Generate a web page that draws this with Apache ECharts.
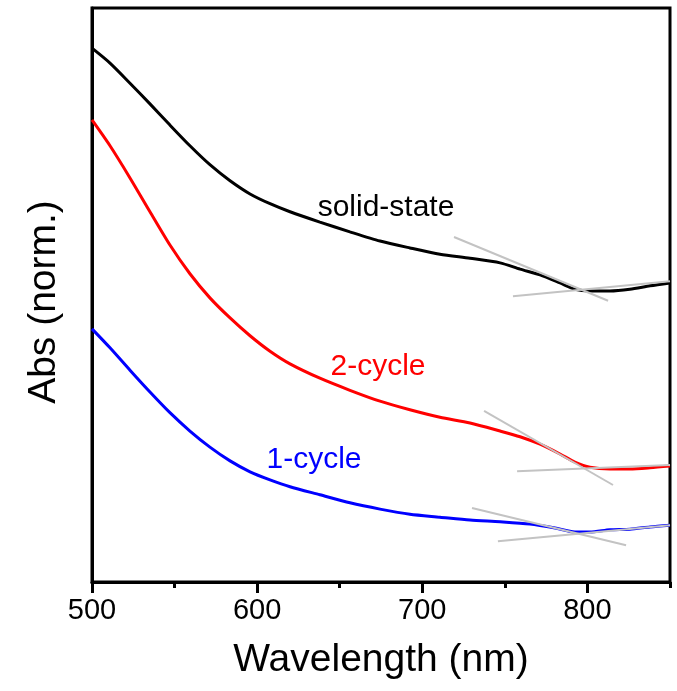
<!DOCTYPE html>
<html>
<head>
<meta charset="utf-8">
<script src="https://cdn.jsdelivr.net/npm/echarts@6/dist/echarts.min.js"></script>
<style>html,body{margin:0;padding:0;background:#fff;}#c{width:677px;height:691px;}</style>
</head>
<body>
<div id="c"></div>
<script>
// Wavelength (nm)
const wlSolid = [500,510.9,523.0,535.1,547.2,559.3,571.4,583.6,595.7,607.8,619.9,638.0,656.2,674.4,692.5,710.7,728.9,747.1,759.2,771.3,783.4,792.4,801.5,813.6,825.7,837.9,850];
const absSolid = [0.930,0.904,0.869,0.833,0.796,0.760,0.727,0.699,0.676,0.659,0.645,0.627,0.610,0.594,0.582,0.571,0.564,0.556,0.545,0.535,0.521,0.510,0.507,0.507,0.510,0.516,0.521];
const wl2 = [500,510.9,523.0,535.1,547.2,559.3,571.4,583.6,595.7,607.8,619.9,638.0,656.2,674.4,692.5,710.7,728.9,747.1,759.2,771.3,783.4,792.4,801.5,813.6,825.7,837.9,850];
const abs2 = [0.805,0.760,0.704,0.645,0.587,0.537,0.495,0.460,0.429,0.402,0.380,0.355,0.334,0.315,0.300,0.287,0.277,0.263,0.253,0.240,0.223,0.209,0.200,0.197,0.197,0.199,0.202];
const wl1 = [500,510.9,523.0,535.1,547.2,559.3,571.4,583.6,595.7,607.8,619.9,638.0,656.2,674.4,692.5,710.7,728.9,747.1,765.2,780.4,792.4,801.5,813.6,825.7,837.9,850];
const abs1 = [0.441,0.408,0.369,0.331,0.295,0.263,0.235,0.211,0.192,0.178,0.166,0.152,0.138,0.127,0.118,0.113,0.108,0.105,0.101,0.094,0.087,0.087,0.091,0.092,0.096,0.099];
// Tangent (onset) construction lines: [wavelength, abs] end points
const tangentSolidA = [[719.2,0.601],[812.5,0.490]];
const tangentSolidB = [[754.9,0.498],[850,0.524]];
const tangent2A = [[737.4,0.298],[815.5,0.169]];
const tangent2B = [[757.4,0.193],[850,0.204]];
const tangent1A = [[730.1,0.129],[823.4,0.064]];
const tangent1B = [[745.8,0.071],[850,0.099]];
const xTicks = [500,600,700,800];
const labels = ['solid-state','2-cycle','1-cycle'];

const FONT = 'Liberation Sans, Arial, sans-serif';
const zip = (xs, ys) => xs.map((x, i) => [x, ys[i]]);
const chart = echarts.init(document.getElementById('c'), null, {renderer:'canvas'});
function curve(name, data, color){
  return {name, type:'line', data, showSymbol:false, smooth:0.25, xAxisIndex:0,
    lineStyle:{color, width:3}, z:3};
}
function tangent(data){
  return {type:'line', data, showSymbol:false, xAxisIndex:0,
    lineStyle:{color:'#c3c3c3', width:2}, z:4, silent:true};
}
chart.setOption({
  animation:false,
  backgroundColor:'#fff',
  grid:{left:92, right:7, top:8, bottom:109, show:true, borderColor:'#000', borderWidth:3},
  xAxis:[{
    type:'value', min:500, max:850, interval:100, position:'bottom',
    axisLine:{show:true, lineStyle:{color:'#000', width:3}},
    axisTick:{show:true, inside:false, length:11, lineStyle:{color:'#000', width:3}},
    axisLabel:{fontSize:29, color:'#000', fontFamily:FONT, margin:14, showMaxLabel:false,
      formatter:v => xTicks.includes(v) ? String(v) : ''},
    splitLine:{show:false},
    name:'Wavelength (nm)', nameLocation:'middle', nameGap:59,
    nameTextStyle:{fontSize:39, color:'#000', fontFamily:FONT}
  },{
    type:'value', min:500, max:850, interval:50, position:'bottom', offset:0,
    axisLine:{show:false},
    axisTick:{show:true, length:6, lineStyle:{color:'#000', width:3}},
    axisLabel:{show:false}, splitLine:{show:false}
  }],
  yAxis:{
    type:'value', min:0, max:1,
    axisLine:{show:true, lineStyle:{color:'#000', width:3}},
    axisTick:{show:false}, axisLabel:{show:false}, splitLine:{show:false},
    name:'Abs (norm.)', nameLocation:'middle', nameGap:28,
    nameTextStyle:{fontSize:39, color:'#000', fontFamily:FONT, padding:[0,14,0,0]}
  },
  series:[
    curve('solid-state', zip(wlSolid, absSolid), '#000'),
    curve('2-cycle', zip(wl2, abs2), '#ff0000'),
    curve('1-cycle', zip(wl1, abs1), '#0000ff'),
    tangent(tangentSolidA), tangent(tangentSolidB),
    tangent(tangent2A), tangent(tangent2B),
    tangent(tangent1A), tangent(tangent1B)
  ],
  graphic:[
    {type:'text', x:386, y:208, style:{text:labels[0], fill:'#000', font:'30px '+FONT, textAlign:'center', textVerticalAlign:'middle'}},
    {type:'text', x:378, y:367, style:{text:labels[1], fill:'#ff0000', font:'30px '+FONT, textAlign:'center', textVerticalAlign:'middle'}},
    {type:'text', x:314, y:460, style:{text:labels[2], fill:'#0000ff', font:'30px '+FONT, textAlign:'center', textVerticalAlign:'middle'}}
  ]
});
</script>
</body>
</html>
